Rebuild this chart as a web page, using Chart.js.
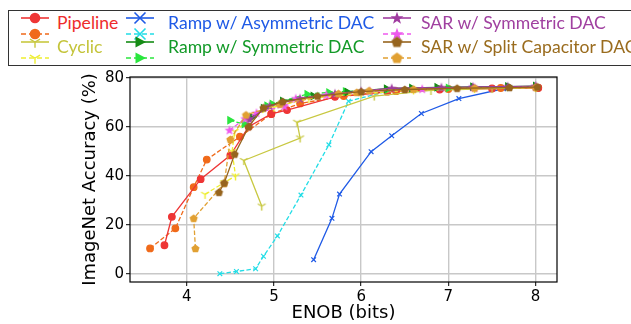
<!DOCTYPE html>
<html><head><meta charset="utf-8">
<script src="https://cdn.jsdelivr.net/npm/chart.js@4/dist/chart.umd.min.js"></script>
<style>
html,body{margin:0;padding:0;background:#fff;overflow:hidden;}
#wrap{position:relative;width:631px;height:324px;}
#c{position:absolute;left:0;top:0;}
#legend{position:absolute;left:8px;top:10px;width:640px;height:56px;border:1px solid #333;box-sizing:border-box;background:#fff;}
.item{position:absolute;font-family:Lato,"Open Sans",sans-serif;font-size:17.6px;line-height:20px;white-space:nowrap;}
</style></head>
<body>
<div id="wrap">
<canvas id="c" width="631" height="324"></canvas>
<div id="legend"></div>
</div>
<script>
// ---- data (ENOB bits, ImageNet accuracy %) ----
const pipelineX  = [3.745, 3.83, 4.16, 4.50, 4.71, 4.97, 5.15, 5.70, 6.30, 6.90, 7.50, 8.03];
const pipelineY  = [11.6, 23.2, 38.6, 48.3, 60.0, 65.2, 66.8, 72.2, 74.3, 75.2, 75.6, 75.8];
const pipelineDX = [3.58, 3.87, 4.08, 4.23, 4.61, 4.97, 5.30, 5.80, 6.40, 7.00, 7.60, 8.03];
const pipelineDY = [10.3, 18.5, 35.3, 46.6, 55.9, 65.2, 69.5, 72.5, 74.5, 75.4, 75.8, 76.0];
const cyclicX    = [4.86, 4.655, 5.30, 5.265, 6.15, 6.80, 7.50, 8.00];
const cyclicY    = [27.6, 46.2, 55.4, 61.8, 72.5, 74.8, 75.6, 76.0];
const cyclicDX   = [4.21, 4.43, 4.56, 4.52, 4.55, 4.75, 5.00, 5.40, 6.00, 6.60, 7.30, 8.00];
const cyclicDY   = [32.4, 37.2, 39.9, 49.9, 58.0, 64.0, 68.0, 71.5, 73.5, 75.0, 75.6, 76.0];
const rampAsymX  = [5.455, 5.665, 5.752, 6.114, 6.35, 6.69, 7.12, 7.63, 8.01];
const rampAsymY  = [5.7, 22.6, 32.5, 49.8, 56.3, 65.4, 71.5, 75.5, 76.3];
const rampAsymDX = [4.38, 4.57, 4.79, 4.88, 5.04, 5.31, 5.63, 5.855, 6.30, 6.90, 7.50, 8.00];
const rampAsymDY = [0.0, 0.9, 2.0, 7.1, 15.4, 32.1, 52.6, 70.4, 74.5, 75.6, 76.0, 76.2];
const rampSymX   = [4.75, 4.88, 5.10, 5.45, 5.84, 6.29, 6.58, 6.87, 7.28, 7.68, 8.00];
const rampSymY   = [64.0, 67.5, 70.5, 72.5, 74.2, 75.5, 75.8, 76.1, 76.3, 76.4, 76.6];
const rampSymDX  = [4.495, 4.66, 4.92, 4.98, 5.38, 5.63, 5.82, 6.30, 7.00, 7.70, 8.00];
const rampSymDY  = [62.6, 61.1, 68.6, 69.3, 73.3, 74.0, 74.4, 75.2, 75.8, 76.2, 76.4];
const sarSymX    = [4.72, 4.95, 5.30, 5.70, 6.00, 6.35, 6.92, 7.28, 7.68, 8.00];
const sarSymY    = [63.0, 68.5, 71.5, 73.5, 74.5, 75.7, 76.0, 76.3, 76.4, 76.6];
const sarSymDX   = [4.49, 4.67, 4.80, 5.12, 5.25, 5.60, 6.10, 6.70, 7.30, 8.00];
const sarSymDY   = [58.6, 63.3, 65.6, 68.4, 71.5, 73.0, 74.5, 75.4, 75.9, 76.3];
const sarSplitX  = [4.37, 4.43, 4.55, 4.71, 4.88, 5.10, 5.50, 6.00, 6.50, 7.10, 7.70, 8.02];
const sarSplitY  = [33.2, 37.0, 48.8, 60.0, 67.7, 70.2, 72.5, 74.3, 75.2, 75.7, 76.0, 76.2];
const sarSplitDX = [4.10, 4.08, 4.43, 4.50, 4.68, 5.07, 5.74, 5.95, 6.09, 6.60, 7.30, 8.00];
const sarSplitDY = [10.3, 22.6, 36.9, 54.8, 64.8, 69.2, 73.5, 74.0, 74.7, 75.3, 75.8, 76.1];

const xTicks = [4, 5, 6, 7, 8];
const yTicks = [0, 20, 40, 60, 80];
const legendNames = ['Pipeline', 'Cyclic', 'Ramp w/ Asymmetric DAC', 'Ramp w/ Symmetric DAC', 'SAR w/ Symmetric DAC', 'SAR w/ Split Capacitor DAC'];

// ---- styles ----
const C = {
  pipe:'#ee3535', pipeD:'#f06a1a', cyc:'#c8c840', cycD:'#eeee30',
  rA:'#1f5ae6', rAD:'#22dde6', rS:'#168c16', rSD:'#2ae63e',
  sS:'#a03ca0', sSD:'#ee5aee', sP:'#96641e', sPD:'#e1a032'
};
const textColors = ['#ee2b2b', '#c4c43a', '#1f5ae6', '#139a28', '#a040a0', '#9a6c1e'];

function mk(w, h, fn){ const c=document.createElement('canvas'); c.width=w; c.height=h; const x=c.getContext('2d'); fn(x); return c; }
function triDown(color, s){ s=s||1; const n=Math.round(11*s); return mk(n,n,x=>{ x.strokeStyle=color; x.lineWidth=1.4; x.beginPath();
  const cx=n/2, cy=n/2, r=4.5*s;
  x.moveTo(cx,cy); x.lineTo(cx,cy+r);
  x.moveTo(cx,cy); x.lineTo(cx-0.866*r,cy-0.5*r);
  x.moveTo(cx,cy); x.lineTo(cx+0.866*r,cy-0.5*r); x.stroke(); }); }
function star(color, s){ s=s||1; const n=Math.round(12*s); return mk(n,n,x=>{ x.fillStyle=color; x.beginPath();
  const cx=n/2, cy=n/2+0.3*s, R=5.2*s, r=2.1*s;
  for(let i=0;i<10;i++){ const a=-Math.PI/2+i*Math.PI/5; const rr=i%2?r:R; x.lineTo(cx+rr*Math.cos(a), cy+rr*Math.sin(a)); }
  x.closePath(); x.fill(); }); }
function pent(color, s){ s=s||1; const n=Math.round(11*s); return mk(n,n,x=>{ x.fillStyle=color; x.beginPath();
  const cx=n/2, cy=n/2+0.3*s, R=4.3*s;
  for(let i=0;i<5;i++){ const a=-Math.PI/2+i*2*Math.PI/5; x.lineTo(cx+R*Math.cos(a), cy+R*Math.sin(a)); }
  x.closePath(); x.fill(); }); }

const M = {
  pipe:{pointStyle:'circle', pointRadius:3.3},
  cyc:{pointRadius:4},
  rA:{pointStyle:'crossRot', pointRadius:3.3},
  rS:{pointStyle:'triangle', pointRadius:4, pointRotation:90},
  sS:{pointRadius:5},
  sP:{pointRadius:4}
};

function pts(xs, ys){ return xs.map((v,i)=>({x:v, y:ys[i]})); }
function ds(label, xs, ys, color, marker, dashed, img){
  return Object.assign({
    label, data: pts(xs, ys), showLine:true, borderColor:color, backgroundColor:color,
    pointBorderColor:color, pointBackgroundColor:color, borderWidth:1.3, pointBorderWidth:1.2,
    borderDash: dashed ? [4.5, 2.2] : [], tension:0, fill:false
  }, marker, img ? {pointStyle: img} : {});
}

const sets = [
  ds('Pipeline', pipelineX, pipelineY, C.pipe, M.pipe, false),
  ds('Pipeline (dashed)', pipelineDX, pipelineDY, C.pipeD, M.pipe, true),
  ds('Cyclic', cyclicX, cyclicY, C.cyc, M.cyc, false, triDown(C.cyc)),
  ds('Cyclic (dashed)', cyclicDX, cyclicDY, C.cycD, M.cyc, true, triDown(C.cycD)),
  ds('Ramp w/ Asymmetric DAC', rampAsymX, rampAsymY, C.rA, M.rA, false),
  ds('Ramp w/ Asymmetric DAC (dashed)', rampAsymDX, rampAsymDY, C.rAD, M.rA, true),
  ds('Ramp w/ Symmetric DAC', rampSymX, rampSymY, C.rS, M.rS, false),
  ds('Ramp w/ Symmetric DAC (dashed)', rampSymDX, rampSymDY, C.rSD, M.rS, true),
  ds('SAR w/ Symmetric DAC', sarSymX, sarSymY, C.sS, M.sS, false, star(C.sS)),
  ds('SAR w/ Symmetric DAC (dashed)', sarSymDX, sarSymDY, C.sSD, M.sS, true, star(C.sSD)),
  ds('SAR w/ Split Capacitor DAC', sarSplitX, sarSplitY, C.sP, M.sP, false, pent(C.sP)),
  ds('SAR w/ Split Capacitor DAC (dashed)', sarSplitDX, sarSplitDY, C.sPD, M.sP, true, pent(C.sPD))
];
const drawOrder = [1,0,3,2,5,4,7,6,9,8,11,10];
sets.forEach((s,i)=>{ s.order = 100 - drawOrder.indexOf(i); });
sets[5].order = 200; sets[4].order = 150;

const frame = { id:'frame', afterDatasetsDraw(ch){ const a=ch.chartArea, x=ch.ctx; x.save(); x.strokeStyle='#000'; x.lineWidth=1.2;
  x.strokeRect(a.left, a.top, a.right-a.left, a.bottom-a.top); x.restore(); } };

const tickFont = {family:'DejaVu Sans', size:15};
const titleFont = {family:'DejaVu Sans', size:18};
new Chart(document.getElementById('c'), {
  type:'scatter',
  data:{datasets:sets},
  options:{
    responsive:false, animation:false, devicePixelRatio:1,
    layout:{padding:{left:80, top:77, right:74, bottom:0}},
    plugins:{legend:{display:false}, tooltip:{enabled:false}},
    scales:{
      x:{type:'linear', min:3.35, max:8.245,
        afterBuildTicks:s=>{ s.ticks = xTicks.map(v=>({value:v})); },
        afterFit:s=>{ s.height = 42; },
        grid:{color:'#c8c8c8', lineWidth:1.4, tickColor:'#000', tickLength:4, tickWidth:1},
        border:{display:false},
        ticks:{color:'#000', font:tickFont, padding:2, maxRotation:0, autoSkip:false},
        title:{display:true, text:'ENOB (bits)', color:'#000', font:titleFont, padding:{top:0,bottom:0}}
      },
      y:{type:'linear', min:-3.4, max:80.3,
        afterBuildTicks:s=>{ s.ticks = yTicks.map(v=>({value:v})); },
        afterFit:s=>{ s.width = 50; },
        grid:{color:'#c8c8c8', lineWidth:1.4, tickColor:'#000', tickLength:4, tickWidth:1},
        border:{display:false},
        ticks:{color:'#000', font:tickFont, padding:2, autoSkip:false},
        title:{display:true, text:'ImageNet Accuracy (%)', color:'#000', font:titleFont, padding:{top:0,bottom:0}}
      }
    }
  },
  plugins:[frame]
});

// ---- legend (HTML text, handles drawn on small canvases) ----
const legendMarkers = [
  [['circle',C.pipe],['circle',C.pipeD]],
  [[triDown(C.cyc,1.3),C.cyc],[triDown(C.cycD,1.3),C.cycD]],
  [['crossRot',C.rA],['crossRot',C.rAD]],
  [['triR',C.rS],['triR',C.rSD]],
  [[star(C.sS,1.3),C.sS],[star(C.sSD,1.3),C.sSD]],
  [[pent(C.sP,1.35),C.sP],[pent(C.sPD,1.35),C.sPD]]
];
function drawMark(x, m, color, cx, cy){
  x.save(); x.fillStyle=color; x.strokeStyle=color; x.lineWidth=1.6; x.setLineDash([]);
  if (m==='circle'){ x.beginPath(); x.arc(cx,cy,5.3,0,Math.PI*2); x.fill(); }
  else if (m==='crossRot'){ const r=5.5; x.beginPath(); x.moveTo(cx-r,cy-r); x.lineTo(cx+r,cy+r); x.moveTo(cx-r,cy+r); x.lineTo(cx+r,cy-r); x.stroke(); }
  else if (m==='triR'){ x.beginPath(); x.moveTo(cx+6,cy); x.lineTo(cx-4.5,cy-5.5); x.lineTo(cx-4.5,cy+5.5); x.closePath(); x.fill(); }
  else { x.drawImage(m, cx-m.width/2, cy-m.height/2); }
  x.restore();
}
// positions relative to the legend box (box at x=8,y=10, 1px border)
const cols = [{hx:12, tx:48}, {hx:117, tx:159}, {hx:374, tx:412}];
const rows = [{ty:2, hy:-1}, {ty:26, hy:23}];
const layout = [[0,0],[0,1],[1,0],[1,1],[2,0],[2,1]];
const leg = document.getElementById('legend');
legendNames.forEach((name,i)=>{
  const [ci, ri] = layout[i]; const col = cols[ci], row = rows[ri];
  const cv = document.createElement('canvas'); cv.width=28; cv.height=34;
  cv.style.position='absolute'; cv.style.left = col.hx + 'px'; cv.style.top = row.hy + 'px';
  const x = cv.getContext('2d');
  const [m1, m2] = legendMarkers[i];
  x.lineWidth=1.6;
  x.strokeStyle=m1[1]; x.beginPath(); x.moveTo(0,8); x.lineTo(28,8); x.stroke();
  drawMark(x, m1[0], m1[1], 14, 8);
  x.strokeStyle=m2[1]; x.setLineDash([5,3]); x.beginPath(); x.moveTo(0,24); x.lineTo(28,24); x.stroke();
  drawMark(x, m2[0], m2[1], 14, 24);
  leg.appendChild(cv);
  const t = document.createElement('div'); t.className='item'; t.textContent=name; t.style.color=textColors[i];
  t.style.left = col.tx + 'px'; t.style.top = row.ty + 'px';
  leg.appendChild(t);
});
</script>
</body></html>
